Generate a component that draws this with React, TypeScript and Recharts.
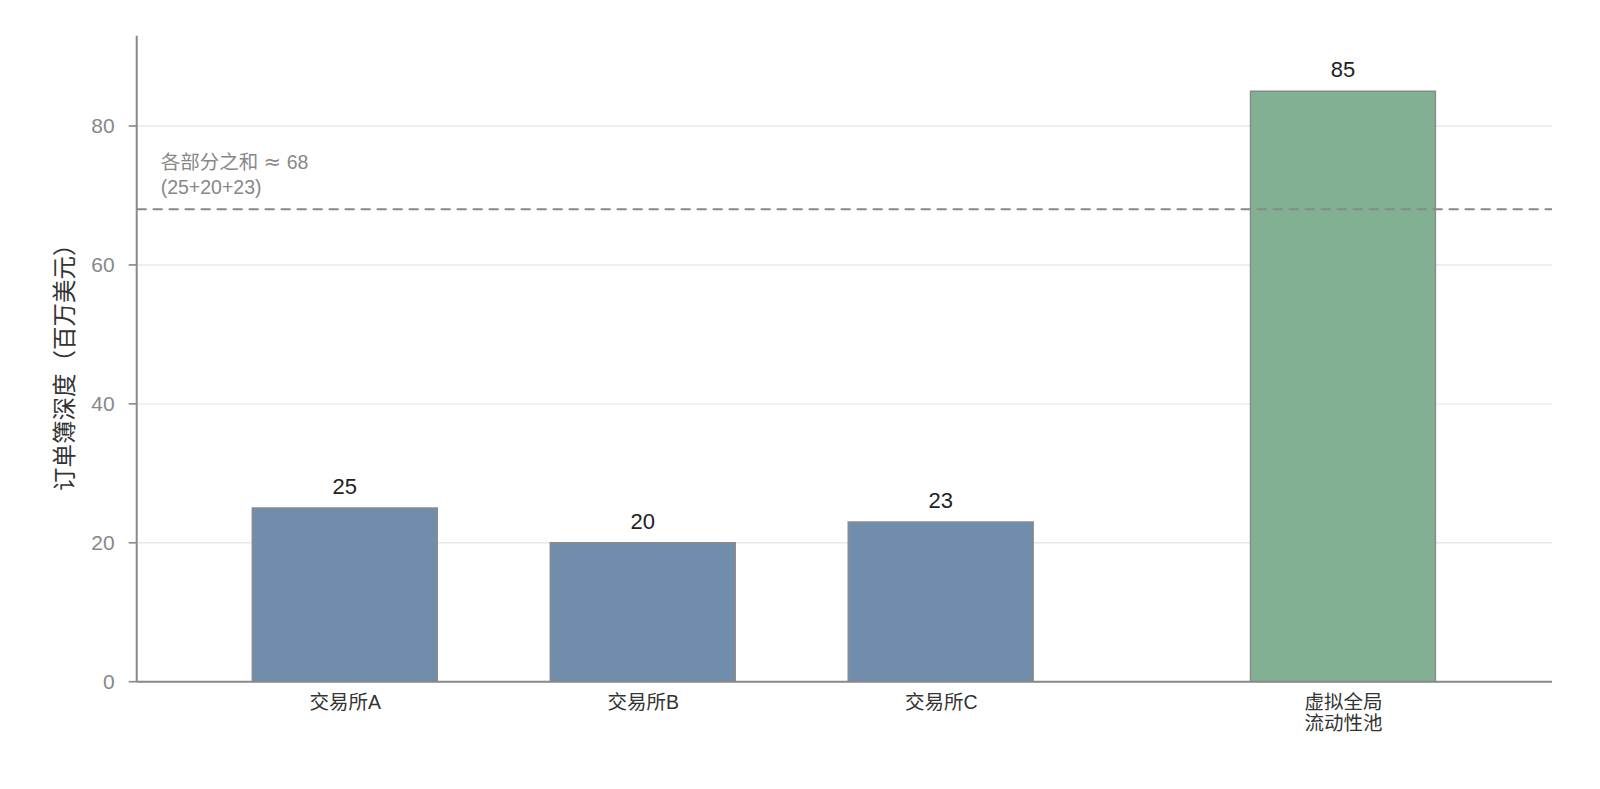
import React from 'react';
import { BarChart, Bar, XAxis, YAxis, CartesianGrid, ReferenceLine, Cell, LabelList } from 'recharts';

const categories = ['交易所A', '交易所B', '交易所C', '虚拟全局\n流动性池'];
const positions = [0, 1, 2, 3.35];
const depths = [25, 20, 23, 85];
const barColors = ['#708dab', '#708dab', '#708dab', '#82b093'];
const sumOfParts = 68;
const sumLabel = ['各部分之和 ≈ 68', '(25+20+23)'];
const yTicks = [0, 20, 40, 60, 80];
const yLabel = '订单簿深度（百万美元）';

const data = categories.map((name, i) => ({ name, pos: positions[i], depth: depths[i] }));

const FONT = "'Liberation Sans', 'Noto Sans CJK SC', sans-serif";

const XTick = (props: any) => {
  const { x, y, payload } = props;
  const idx = positions.indexOf(payload.value);
  const label = idx >= 0 ? categories[idx] : '';
  const lines = label.split('\n');
  return (
    <text x={x} y={y} textAnchor="middle" fill="#333" fontSize={19.5} fontFamily={FONT}>
      {lines.map((l, i) => (
        <tspan key={i} x={x} dy={i === 0 ? 19 : 21.7}>{l}</tspan>
      ))}
    </text>
  );
};

const SumLabel = (props: any) => {
  const vb = props.viewBox || {};
  const x = (vb.x || 0) + 24;
  const y = vb.y || 0;
  const parts = sumLabel[0].split('≈');
  return (
    <text x={x} y={y} fill="#888" fontSize={19.5} fontFamily={FONT}>
      <tspan x={x} dy={-40}>{parts[0]}</tspan>
      <tspan fontFamily="'DejaVu Sans', sans-serif" fontSize={21}>≈</tspan>
      <tspan>{parts[1]}</tspan>
      <tspan x={x} dy={24.5}>{sumLabel[1]}</tspan>
    </text>
  );
};

const YLabel = (props: any) => {
  const vb = props.viewBox || {};
  const cx = 65;
  const cy = (vb.y || 0) + (vb.height || 0) / 2 + 3;
  return (
    <text x={cx} y={cy} textAnchor="middle" dominantBaseline="central" fill="#333" fontSize={23.5} fontFamily={FONT} transform={`rotate(-90 ${cx} ${cy})`}>
      {yLabel}
    </text>
  );
};

export default function App() {
  return (
    <div style={{ position: 'absolute', left: 0, top: 0, width: 1600, height: 789, background: '#fff' }}>
      <BarChart width={1600} height={789} data={data} margin={{ top: 35.7, right: 48, bottom: 77.3, left: 76.7 }}>
        <CartesianGrid vertical={false} stroke="#e8e8e8" strokeWidth={1.4} syncWithTicks />
        <XAxis
          dataKey="pos"
          type="number"
          height={30}
          domain={[-0.7, 4.05]}
          ticks={positions}
          interval={0}
          tickLine={false}
          axisLine={{ stroke: '#888', strokeWidth: 2 }}
          tick={<XTick />}
          allowDataOverflow
        />
        <YAxis
          width={60}
          domain={[0, 93]}
          ticks={yTicks}
          interval={0}
          tickSize={8}
          tickMargin={14}
          axisLine={{ stroke: '#888', strokeWidth: 2 }}
          tickLine={{ stroke: '#888', strokeWidth: 1.6 }}
          tick={{ fill: '#888', fontSize: 21, fontFamily: FONT }}
          allowDataOverflow
          label={<YLabel />}
        />
        <Bar dataKey="depth" barSize={185} stroke="#8a8a8a" strokeWidth={1.4} isAnimationActive={false}>
          {data.map((d, i) => (
            <Cell key={i} fill={barColors[i]} />
          ))}
          <LabelList dataKey="depth" position="top" offset={14} fill="#222" fontSize={22} fontFamily={FONT} />
        </Bar>
        <ReferenceLine y={sumOfParts} stroke="#888" strokeWidth={2} strokeDasharray="10 6" label={<SumLabel />} />
      </BarChart>
    </div>
  );
}
